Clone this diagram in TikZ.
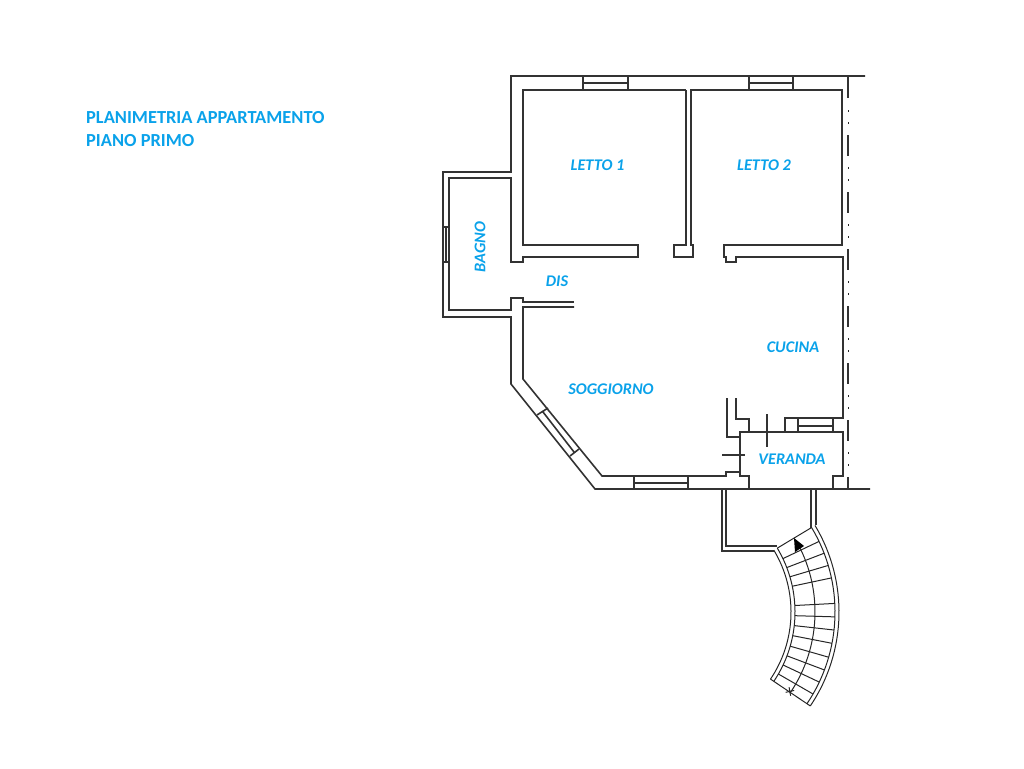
\documentclass[tikz,border=0pt]{standalone}
\usepackage{fontspec}
\setmainfont{Carlito}
\definecolor{labelblue}{HTML}{0AA2EA}
\tikzset{
  wall/.style={draw=black!80,line width=1.6pt,line join=miter},
  thin wall/.style={draw=black!85,line width=1pt},
  room/.style={text=labelblue,font=\fontsize{16.3}{16}\selectfont\bfseries\itshape,inner sep=0pt},
  heading/.style={text=labelblue,font=\fontsize{18.4}{23}\selectfont\bfseries,align=left,inner sep=0pt}
}
\begin{document}
\begin{tikzpicture}[x=1pt,y=-1pt]
\useasboundingbox (0,0) rectangle (1024,768);
% labels
\node[heading,anchor=north west] (title) at (86,111) {PLANIMETRIA APPARTAMENTO\\PIANO PRIMO};
\node[room] (letto1) at (597.5,165) {LETTO 1};
\node[room] (letto2) at (764,165) {LETTO 2};
\node[room,rotate=90] (bagno) at (480,247) {BAGNO};
\node[room] (dis) at (557,281) {DIS};
\node[room] (soggiorno) at (611,389) {SOGGIORNO};
\node[room] (cucina) at (793,347) {CUCINA};
\node[room] (veranda) at (792,459) {VERANDA};
% outer walls
\draw[wall] (865,76) -- (511,76) -- (511,172) -- (443,172) -- (443,317) -- (511,317) -- (511,384) -- (595,489) -- (870,489);
\draw[wall] (574,307) -- (523,307) -- (523,379) -- (602,476) -- (726,476) -- (726,472) -- (740,472);
% rooms
\draw[wall] (686,90) -- (523,90) -- (523,245) -- (638,245) -- (638,257) -- (523,257) -- (523,262) -- (511,262) -- (511,178) -- (449,178) -- (449,310) -- (511,310) -- (511,298) -- (523,298) -- (523,302) -- (574,302);
\draw[wall] (686,90) -- (686,245) -- (674,245) -- (674,257) -- (693,257) -- (693,245) -- (691,245) -- (691,90) -- (842,90) -- (842,245) -- (724,245) -- (724,257) -- (726,257) -- (726,262) -- (736,262) -- (736,257) -- (843,257) -- (843,418) -- (785,418) -- (785,432);
% veranda
\draw[wall] (749,489) -- (749,476) -- (740,476) -- (740,432) -- (843,432) -- (843,476) -- (833,476) -- (833,489);
\draw[wall] (727,398) -- (727,437) -- (740,437);
\draw[wall] (736,398) -- (736,419) -- (749,419) -- (749,432);
\draw[wall] (767,414) -- (767,447);
\draw[wall] (722,455) -- (745,455);
% windows
\draw[wall] (583,76) -- (583,90) (628,76) -- (628,90) (583,83) -- (628,83);
\draw[wall] (749,76) -- (749,90) (793,76) -- (793,90) (749,83) -- (793,83);
\draw[wall] (443,227) -- (449,227) (443,262) -- (449,262) (446,227) -- (446,262);
\draw[wall] (537,415) -- (548,408) (570,456) -- (579,449) (543,412) -- (574,452);
\draw[wall] (634,476) -- (634,489) (688,476) -- (688,489) (634,483) -- (688,483);
\draw[wall] (798,418) -- (798,432) (833,418) -- (833,432) (798,426) -- (833,426);
% dash dot line
\draw[wall] (848,76) -- (848,98) (848,477) -- (848,489);
\foreach \k in {0,...,5}{
  \draw[wall] (848,135+57*\k) -- (848,156+57*\k);
}
\foreach \k in {0,...,6}{
  \draw[thin wall] (848,110+57*\k) -- (848,112+57*\k);
  \draw[thin wall] (848,122+57*\k) -- (848,124+57*\k);
}
% stair walls
\draw[wall] (722,489) -- (722,551) -- (774,551);
\draw[wall] (726,489) -- (726,546) -- (777,546);
\draw[wall] (811,489) -- (811,528);
\draw[wall] (816,489) -- (816,525);
% stair
\begin{scope}[shift={(671,612)}]
\foreach \rad in {120,124,164,168}{
  \draw[thin wall] (-31:\rad) arc[start angle=-31,end angle=34,radius=\rad];
}
\draw[thin wall] (-28:144) arc[start angle=-28,end angle=33.7,radius=144];
\foreach \ang in {-31,-25.5,-21,-16.5,-12,-3,1.7,6.3,11,16,20.7,25.3,30}{
  \draw[thin wall] (\ang:124) -- (\ang:164);
}
\draw[thin wall] (34:120) -- (34:168);
\fill[black] (123,-74) -- (124,-60) -- (133,-66) -- cycle;
\draw[thin wall] (32.5:140) -- (35:146) (35:140) -- (32.5:146);
\end{scope}
\end{tikzpicture}
\end{document}
